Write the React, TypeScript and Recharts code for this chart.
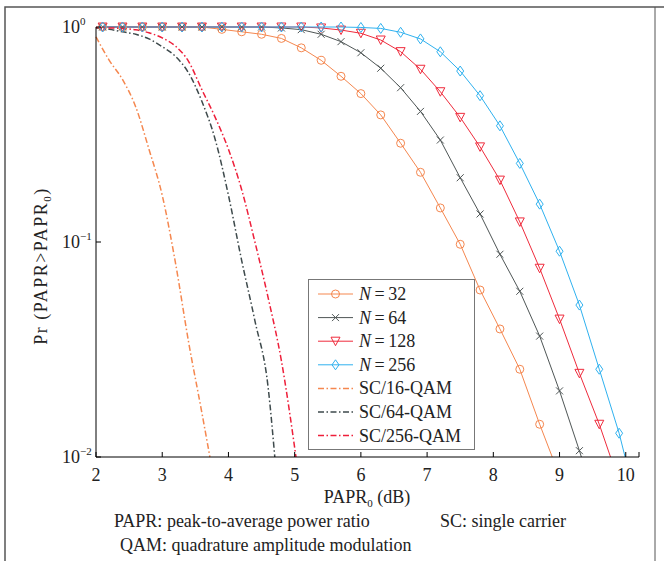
import React from 'react';
import { LineChart, Line, XAxis, YAxis, Legend } from 'recharts';

const FONT = '"Liberation Serif", "Times New Roman", serif';

// PAPR0 (dB) where the OFDM curves carry a marker
const nGrid = [2.1, 2.4, 2.7, 3.0, 3.3, 3.6, 3.9, 4.2, 4.5, 4.8, 5.1, 5.4, 5.7, 6.0, 6.3, 6.6, 6.9, 7.2, 7.5, 7.8, 8.1, 8.4, 8.7, 9.0, 9.3, 9.6, 9.9];

// Pr(PAPR > PAPR0)
const n32 = [1, 1, 1, 1, 1, 1, 0.975, 0.95, 0.925, 0.885, 0.8, 0.7, 0.59, 0.49, 0.39, 0.288, 0.211, 0.144, 0.0976, 0.0598, 0.0394, 0.0256, 0.0142];
const n64 = [1, 1, 1, 1, 1, 1, 1, 1, 1, 0.99, 0.972, 0.925, 0.855, 0.759, 0.643, 0.522, 0.405, 0.298, 0.199, 0.135, 0.0877, 0.059, 0.0365, 0.0203, 0.0107];
const n128 = [1, 1, 1, 1, 1, 1, 1, 1, 1, 1, 1, 0.99, 0.968, 0.935, 0.87, 0.768, 0.636, 0.5, 0.38, 0.277, 0.194, 0.124, 0.0755, 0.0438, 0.0245, 0.0142];
const n256 = [1, 1, 1, 1, 1, 1, 1, 1, 1, 1, 1, 1, 1, 0.995, 0.985, 0.945, 0.88, 0.767, 0.624, 0.479, 0.347, 0.232, 0.15, 0.0906, 0.0509, 0.0256, 0.0129];
// PAPR0 where each curve reaches 10^-2
const nEnd = [8.89, 9.33, 9.77, 9.99];

// single carrier curves (no markers)
const sc16Grid = [2.0, 2.2, 2.4, 2.6, 2.8, 3.0, 3.2, 3.4, 3.6];
const sc16 = [0.9, 0.7, 0.57, 0.425, 0.27, 0.165, 0.08, 0.034, 0.016];
const sc64Grid = [2.0, 2.2, 2.4, 2.6, 2.8, 3.0, 3.2, 3.4, 3.6, 3.8, 4.0, 4.2, 4.4, 4.6];
const sc64 = [0.99, 0.975, 0.95, 0.925, 0.88, 0.81, 0.73, 0.61, 0.45, 0.3, 0.165, 0.082, 0.043, 0.021];
const sc256Grid = [2.0, 2.2, 2.4, 2.6, 2.8, 3.0, 3.2, 3.4, 3.6, 3.8, 4.0, 4.2, 4.4, 4.6, 4.8];
const sc256 = [0.995, 0.99, 0.985, 0.97, 0.94, 0.89, 0.815, 0.69, 0.51, 0.38, 0.27, 0.175, 0.1, 0.055, 0.028];
const scEnd = [3.72, 4.7, 5.02];

const xTicks = [2, 3, 4, 5, 6, 7, 8, 9, 10, 10.2];
const yTicks = [0.01, 0.1, 1];
const FLOOR = 0.01;

const toPoints = (xs: number[], ys: number[], end: number) =>
  ys.map((y, i) => ({ x: xs[i], y })).concat([{ x: end, y: FLOOR }]);

const series = [
  { name: '32', data: toPoints(nGrid, n32, nEnd[0]), color: '#f5874f', marker: 'circle' },
  { name: '64', data: toPoints(nGrid, n64, nEnd[1]), color: '#4f5656', marker: 'cross' },
  { name: '128', data: toPoints(nGrid, n128, nEnd[2]), color: '#ef2b3c', marker: 'triangle' },
  { name: '256', data: toPoints(nGrid, n256, nEnd[3]), color: '#2fb1ef', marker: 'diamond' },
];
const scSeries = [
  { name: 'SC/16-QAM', data: toPoints(sc16Grid, sc16, scEnd[0]), color: '#f5874f' },
  { name: 'SC/64-QAM', data: toPoints(sc64Grid, sc64, scEnd[1]), color: '#3e4a4c' },
  { name: 'SC/256-QAM', data: toPoints(sc256Grid, sc256, scEnd[2]), color: '#ee1f3a' },
];
const DASH = '6 2.5 1.5 2.5';

function marker(kind: string, cx: number, cy: number, color: string, key?: any) {
  const p = { stroke: color, fill: 'none', strokeWidth: 1 };
  if (kind === 'circle') return <circle key={key} cx={cx} cy={cy} r={4} {...p} />;
  if (kind === 'cross')
    return (
      <path key={key} d={`M${cx - 3.5},${cy - 3.5}L${cx + 3.5},${cy + 3.5}M${cx - 3.5},${cy + 3.5}L${cx + 3.5},${cy - 3.5}`} {...p} />
    );
  if (kind === 'triangle')
    return <path key={key} d={`M${cx - 4.5},${cy - 4}L${cx + 4.5},${cy - 4}L${cx},${cy + 4.5}Z`} {...p} />;
  return <path key={key} d={`M${cx},${cy - 5}L${cx + 3.5},${cy}L${cx},${cy + 5}L${cx - 3.5},${cy}Z`} {...p} />;
}

const XTick = (props: any) => {
  const { x, y, payload } = props;
  return (
    <g>
      <line x1={x} y1={y} x2={x} y2={y - 5} stroke="#000" />
      {payload.value <= 10 && (
        <text x={x} y={y + 24} textAnchor="middle" fontFamily={FONT} fontSize={18} fill="#222">
          {payload.value}
        </text>
      )}
    </g>
  );
};

const YTick = (props: any) => {
  const { x, y, payload } = props;
  const exp = Math.round(Math.log10(payload.value));
  return (
    <g>
      <line x1={x} y1={y} x2={x + 5} y2={y} stroke="#000" />
      <text x={x - 34} y={y + 6} fontFamily={FONT} fontSize={18} fill="#222">
        10<tspan dy={-8} fontSize={11}>{exp === 0 ? '0' : '\u2212' + Math.abs(exp)}</tspan>
      </text>
    </g>
  );
};

const LegendBox = () => (
  <div style={{ width: 167, height: 171, border: '1px solid #777', background: '#fff', boxSizing: 'border-box' }}>
    <svg width={165} height={169} style={{ display: 'block' }}>
      {series.map((s, i) => {
        const cy = 14 + i * 23.6;
        return (
          <g key={s.name}>
            <line x1={9} x2={44} y1={cy} y2={cy} stroke={s.color} />
            {marker(s.marker, 26.5, cy, s.color)}
            <text x={50} y={cy + 6} fontFamily={FONT} fontSize={18} fill="#222">
              <tspan fontStyle="italic">N</tspan>
              {'\u2009=\u2009' + s.name}
            </text>
          </g>
        );
      })}
      {scSeries.map((s, i) => {
        const cy = 14 + (i + 4) * 23.6;
        return (
          <g key={s.name}>
            <line x1={9} x2={44} y1={cy} y2={cy} stroke={s.color} strokeWidth={1.5} strokeDasharray={DASH} />
            <text x={50} y={cy + 6} fontFamily={FONT} fontSize={18} fill="#222">
              {s.name}
            </text>
          </g>
        );
      })}
    </svg>
  </div>
);

const YLabel = () => (
  <text
    transform="translate(47,266) rotate(-90)"
    textAnchor="middle"
    fontFamily={FONT}
    fontSize={18}
    fill="#222"
    letterSpacing={1.5}
  >
    Pr (PAPR&gt;PAPR<tspan dy={4} fontSize={11}>0</tspan>
    <tspan dy={-4}>)</tspan>
  </text>
);

const XLabel = () => (
  <text x={367} y={503} textAnchor="middle" fontFamily={FONT} fontSize={18} fill="#222">
    PAPR<tspan dy={4} fontSize={11}>0</tspan>
    <tspan dy={-4}> (dB)</tspan>
  </text>
);

export default function App() {
  return (
    <div style={{ position: 'absolute', left: 0, top: 0, width: 664, height: 561, background: '#fff', overflow: 'hidden' }}>
      <LineChart width={664} height={561} margin={{ top: 27, right: 25, left: 0, bottom: 0 }}>
        <XAxis
          type="number"
          dataKey="x"
          domain={[2, 10.2]}
          ticks={xTicks}
          interval={0}
          tickSize={0}
          tickMargin={0}
          tick={<XTick />}
          height={104}
          axisLine={{ stroke: '#000' }}
          label={{ content: XLabel }}
        />
        <YAxis
          type="number"
          dataKey="y"
          scale="log"
          domain={[0.01, 1]}
          ticks={yTicks}
          interval={0}
          tickSize={0}
          tickMargin={0}
          tick={<YTick />}
          width={96}
          axisLine={{ stroke: '#000' }}
          label={{ content: YLabel }}
        />
        {series.map((s) => (
          <Line
            key={s.name}
            data={s.data}
            dataKey="y"
            name={'N=' + s.name}
            type="linear"
            stroke={s.color}
            strokeWidth={1}
            isAnimationActive={false}
            dot={(p: any) =>
              p.payload.y > FLOOR ? marker(s.marker, p.cx, p.cy, s.color, p.index) : <g key={p.index} />
            }
            activeDot={false}
          />
        ))}
        {scSeries.map((s) => (
          <Line
            key={s.name}
            data={s.data}
            dataKey="y"
            name={s.name}
            type="monotone"
            stroke={s.color}
            strokeWidth={1.5}
            strokeDasharray={DASH}
            dot={false}
            activeDot={false}
            isAnimationActive={false}
          />
        ))}
        <Legend
          layout="vertical"
          align="center"
          verticalAlign="middle"
          content={LegendBox}
          wrapperStyle={{ left: 308, top: 279, width: 167, height: 171 }}
        />
      </LineChart>
      <svg width={664} height={561} style={{ position: 'absolute', left: 0, top: 0, pointerEvents: 'none' }}>
        <path d="M5,561V7H664" fill="none" stroke="#555" strokeWidth={1.5} />
        <line x1={655} y1={7} x2={655} y2={561} stroke="#555" strokeWidth={1} />
        <g fontFamily={FONT} fontSize={18} fill="#222">
          <text x={114} y={527}>PAPR: peak-to-average power ratio</text>
          <text x={440} y={527}>SC: single carrier</text>
          <text x={120} y={551}>QAM: quadrature amplitude modulation</text>
        </g>
      </svg>
    </div>
  );
}
